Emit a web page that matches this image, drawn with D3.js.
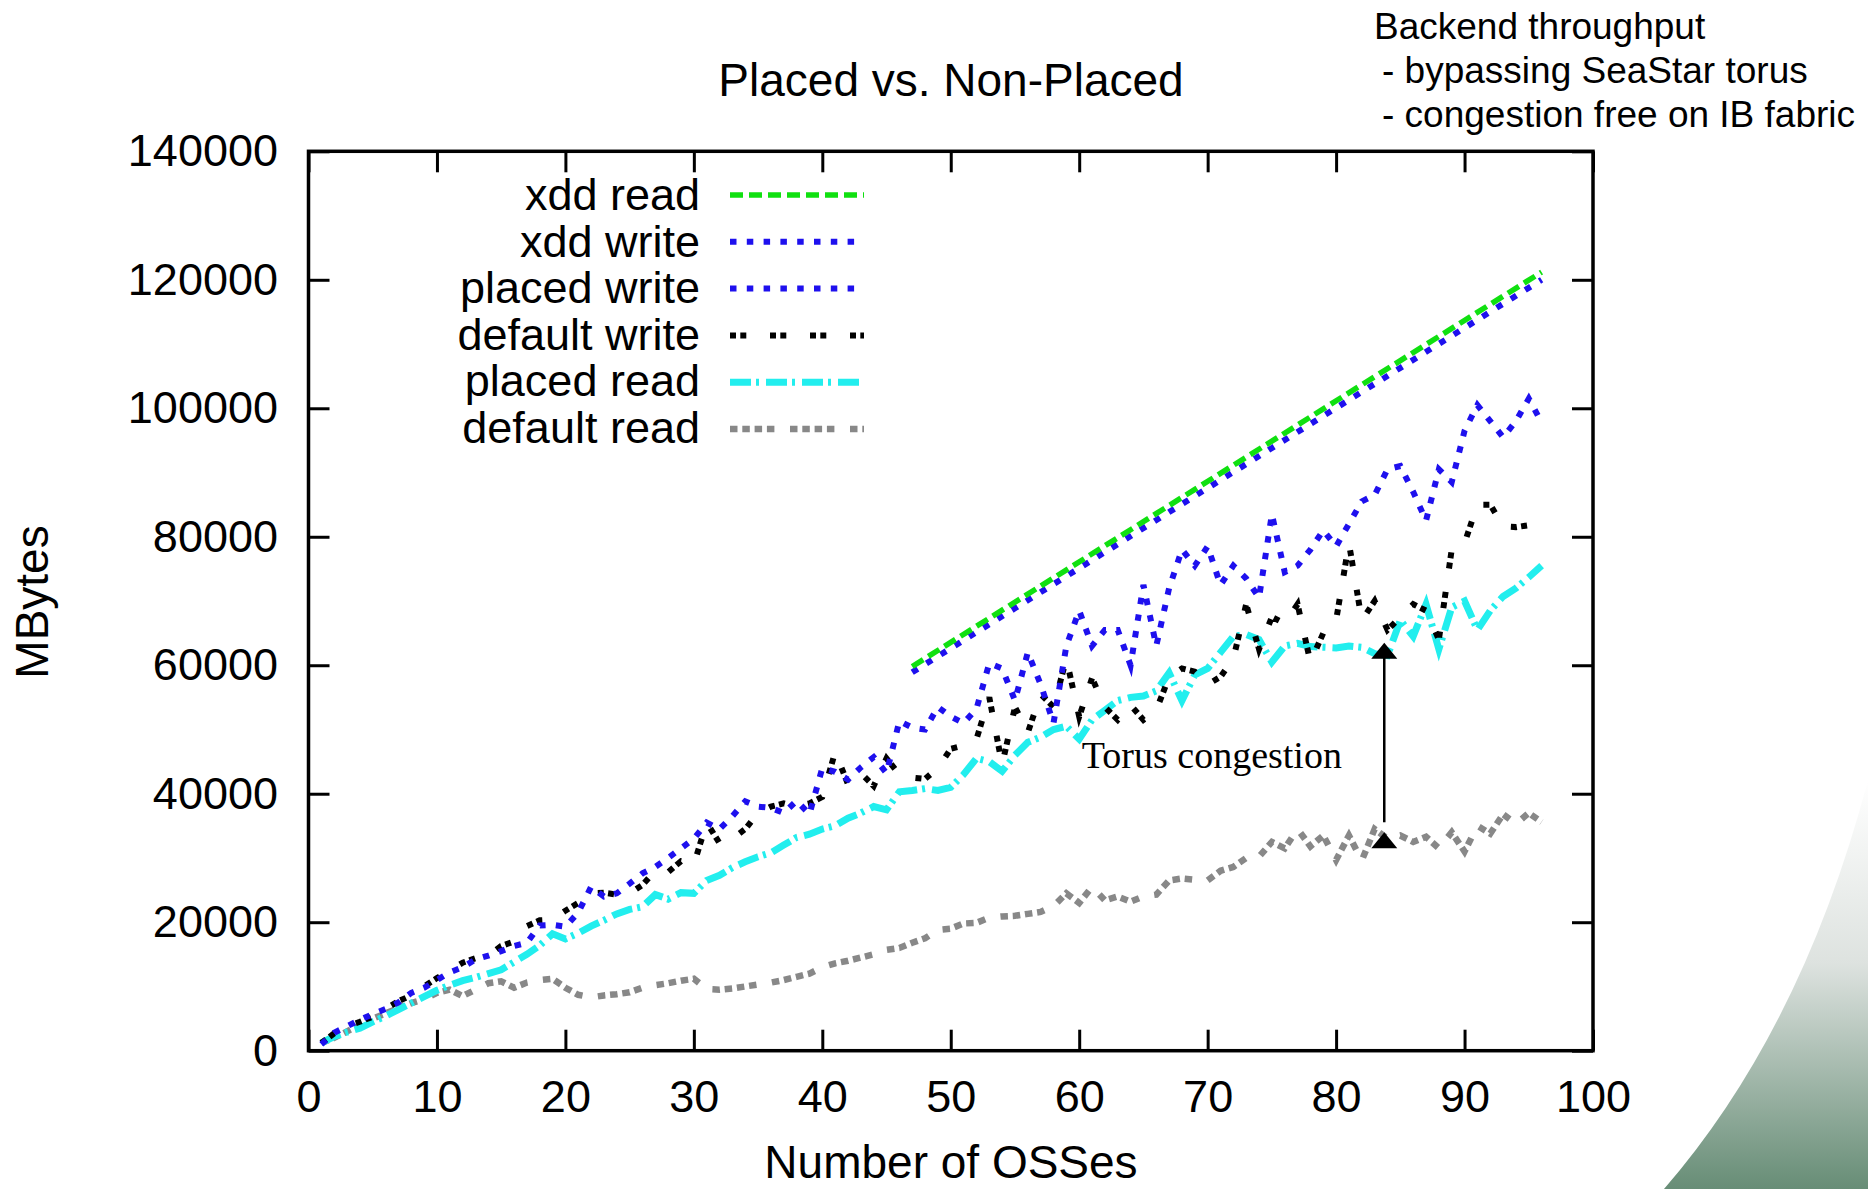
<!DOCTYPE html>
<html>
<head>
<meta charset="utf-8">
<script src="https://cdn.jsdelivr.net/npm/d3@7"></script>
<style>
  body { margin: 0; background: #fff; }
</style>
</head>
<body>
<div id="chart"></div>
<script>
// x values: number of OSSes
var osses = d3.range(1, 97);

var placedWrite = [1000, 2800, 3800, 4800, 5700, 6500, 7500, 9000, 9800, 11000,
  12200, 13000, 14200, 14800, 15500, 16300, 16800, 19500, 19600, 19300,
  21500, 25500, 24000, 24500, 26000, 27600, 28600, 30000, 31500, 33000,
  35500, 34500, 36500, 38800, 38000, 37800, 37000, 38900, 36800, 44000,
  43400, 42200, 44100, 45700, 43200, 51300, 50300, 50000, 53500, 52000,
  51000, 53200, 60300, 59500, 54500, 62000, 57000, 51000, 63000, 68500,
  63000, 65500, 65500, 60000, 72500, 63000, 72000, 78000, 75500, 78500,
  72500, 75500, 73500, 70500, 83500, 74500, 75500, 78000, 81000, 78500,
  82000, 85500, 86500, 90500, 91000, 87000, 82500, 90500, 88500, 96500,
  100500, 98000, 95500, 98000, 101500, 97800];

var defaultWrite = [1200, 2700, 3800, 4500, 5300, 6500, 7700, 8600, 10000, 11300,
  12500, 13700, 14400, 14800, 16300, 17000, 19400, 20300, 20400, 21800,
  23000, 24500, 24600, 24300, 24500, 25800, 28000, 27800, 29500, 29000,
  35500, 32300, 33000, 34500, 37000, 38000, 38500, 38000, 38500, 39500,
  46500, 41500, 43200, 41200, 45500, 43000, 42500, 42300, 44000, 47000,
  47500, 48500, 55000, 44500, 53500, 49500, 55500, 53500, 61000, 52000,
  58000, 53500, 51500, 53800, 51500, 53000, 58200, 59500, 59000, 57000,
  58200, 61000, 69500, 62500, 67500, 66500, 69500, 60500, 65000, 67000,
  79000, 67000, 70000, 65500, 67500, 69500, 68500, 64000, 78000, 79000,
  85000, 85000, 81600, 81500, 81800, 83000];

var placedRead = [1200, 2200, 2900, 3500, 4500, 5400, 6400, 7400, 8400, 9400,
  10200, 10900, 11400, 12000, 12600, 13800, 15000, 16400, 18200, 17400,
  18300, 19400, 20300, 21300, 22000, 22400, 24300, 23600, 24600, 24500,
  26500, 27300, 28500, 29400, 30200, 30800, 32000, 33200, 33700, 34500,
  35000, 36200, 37000, 38000, 37500, 40300, 40500, 40800, 40500, 41000,
  43000, 45500, 45000, 43500, 46000, 48000, 48800, 50000, 50500, 48500,
  51500, 53000, 54500, 55000, 55200, 56000, 58800, 54500, 58500, 59500,
  62000, 64500, 64800, 64000, 60500, 63000, 63400, 62900, 62800, 62700,
  63000, 62800, 61800, 61500, 67000, 64500, 69500, 62500, 69000, 70000,
  65500, 68500, 70700, 72000, 73700, 75500];

var defaultRead = [1200, 2000, 3000, 4000, 5000, 5800, 6600, 7400, 8000, 9000,
  9500, 8500, 9500, 10500, 10800, 9800, 10600, 11000, 11200, 9800,
  8700, 8300, 8600, 8800, 9100, 9800, 10200, 10500, 10900, 11200,
  9600, 9500, 9700, 10000, 10300, 10600, 11000, 11500, 12000, 13000,
  13600, 14000, 14500, 15000, 15700, 16000, 16800, 17500, 18800, 19000,
  19800, 19900, 20700, 20900, 21000, 21300, 21600, 22500, 24500, 23000,
  25500, 23400, 24000, 23200, 24000, 24300, 26500, 26800, 26600, 26500,
  28000, 28600, 30000, 30200, 32500, 31500, 34500, 31800, 33500, 29700,
  33500, 29600, 34500, 33000, 33500, 32500, 33300, 31500, 34000, 31000,
  35000, 33800, 36800, 35300, 37000, 35600];

// xdd runs only from 47 OSSes upward
var xddOsses = [47, 96];
var xddRead = [59800, 121200];
var xddWrite = [58900, 120000];

var xTicks = d3.range(0, 101, 10);
var yTicks = d3.range(0, 140001, 20000);

var seriesNames = ["xdd read", "xdd write", "placed write", "default write", "placed read", "default read"];

// annotation: arrow between default read and placed read
var arrowAt = 83.75, arrowTop = 63500, arrowBottom = 34000;
var noteText = "Torus congestion", noteX = 60.2, noteY = 44000;

var width = 1868, height = 1189;
var plotLeft = 308.5, plotRight = 1593, plotTop = 151.3, plotBottom = 1050.7;
var sans = "Liberation Sans, Arial, sans-serif";

var svg = d3.select("#chart").append("svg")
    .attr("width", width)
    .attr("height", height)
    .style("font-family", sans);

// green slide corner in the bottom right
var grad = svg.append("defs").append("linearGradient")
    .attr("id", "corner")
    .attr("gradientUnits", "userSpaceOnUse")
    .attr("x1", 0).attr("y1", 780).attr("x2", 0).attr("y2", 1189);
grad.append("stop").attr("offset", 0).attr("stop-color", "#ffffff");
grad.append("stop").attr("offset", 0.45).attr("stop-color", "#dde2df");
grad.append("stop").attr("offset", 1).attr("stop-color", "#678d76");
svg.append("path")
    .attr("d", "M1868,780 Q1802,1030 1664,1189 L1868,1189 Z")
    .attr("fill", "url(#corner)");

var x = d3.scaleLinear().domain([0, 100]).range([plotLeft, plotRight]);
var y = d3.scaleLinear().domain([0, 140000]).range([plotBottom, plotTop]);

var styles = {
  "xdd read":      { color: "#10e010", width: 5.5, dash: "13 6" },
  "xdd write":     { color: "#1e10ee", width: 6, dash: "6.5 10.3" },
  "placed write":  { color: "#1e10ee", width: 6, dash: "6.5 10.3" },
  "default write": { color: "#000000", width: 6, dash: "6 4.3 6 23.7" },
  "placed read":   { color: "#22eeee", width: 7, dash: "21 5 3 7" },
  "default read":  { color: "#888888", width: 6.5, dash: "7.5 4.8 7.5 4.8 7.5 4.8 7.5 15.6" }
};

// axes, ticks pointing inward
var xAxis = d3.axisBottom(x).tickValues(xTicks).tickSize(-21).tickSizeOuter(0).tickPadding(29);
var yAxis = d3.axisLeft(y).tickValues(yTicks).tickSize(-21).tickSizeOuter(0).tickPadding(30.5)
    .tickFormat(d3.format("d"));

svg.append("g")
    .attr("transform", "translate(0," + plotBottom + ")")
    .call(xAxis);
svg.append("g")
    .attr("transform", "translate(" + plotLeft + ",0)")
    .call(yAxis);
svg.append("g")
    .attr("transform", "translate(0," + plotTop + ")")
    .call(d3.axisTop(x).tickValues(xTicks).tickSize(-21).tickSizeOuter(0).tickFormat(""));
svg.append("g")
    .attr("transform", "translate(" + plotRight + ",0)")
    .call(d3.axisRight(y).tickValues(yTicks).tickSize(-21).tickSizeOuter(0).tickFormat(""));

svg.selectAll(".domain").remove();
svg.selectAll(".tick line").attr("stroke", "#000").attr("stroke-width", 3);
svg.selectAll(".tick text")
    .attr("font-size", 45)
    .attr("font-family", sans)
    .attr("fill", "#000");

// frame
svg.append("rect")
    .attr("x", plotLeft).attr("y", plotTop)
    .attr("width", plotRight - plotLeft).attr("height", plotBottom - plotTop)
    .attr("fill", "none")
    .attr("stroke", "#000")
    .attr("stroke-width", 3.5);

var line = d3.line()
    .x(function (d) { return x(d[0]); })
    .y(function (d) { return y(d[1]); });

var series = [
  { name: "default read", xs: osses, ys: defaultRead },
  { name: "placed read", xs: osses, ys: placedRead },
  { name: "default write", xs: osses, ys: defaultWrite },
  { name: "placed write", xs: osses, ys: placedWrite },
  { name: "xdd write", xs: xddOsses, ys: xddWrite },
  { name: "xdd read", xs: xddOsses, ys: xddRead }
];

svg.append("g").selectAll("path")
    .data(series)
    .join("path")
    .attr("d", function (s) { return line(s.xs.map(function (v, i) { return [v, s.ys[i]]; })); })
    .attr("fill", "none")
    .attr("stroke", function (s) { return styles[s.name].color; })
    .attr("stroke-width", function (s) { return styles[s.name].width; })
    .attr("stroke-dasharray", function (s) { return styles[s.name].dash; })
    .attr("stroke-linejoin", "miter");

// legend
var legend = svg.append("g");
seriesNames.forEach(function (name, i) {
  legend.append("text")
      .attr("x", 700)
      .attr("y", 210 + i * 46.6)
      .attr("text-anchor", "end")
      .attr("font-size", 45)
      .text(name);
  legend.append("line")
      .attr("x1", 730).attr("x2", 864)
      .attr("y1", 195 + i * 46.8).attr("y2", 195 + i * 46.8)
      .attr("stroke", styles[name].color)
      .attr("stroke-width", styles[name].width)
      .attr("stroke-dasharray", styles[name].dash);
});

// arrow with heads
var ax = x(arrowAt);
svg.append("line")
    .attr("x1", ax).attr("x2", ax)
    .attr("y1", y(arrowTop) + 8).attr("y2", y(arrowBottom) - 10)
    .attr("stroke", "#000").attr("stroke-width", 2.5);
svg.append("path")
    .attr("d", "M" + ax + "," + y(arrowTop) + " l13,16 l-26,0 Z")
    .attr("fill", "#000");
svg.append("path")
    .attr("d", "M" + ax + "," + y(arrowBottom) + " l13,16 l-26,0 Z")
    .attr("fill", "#000");

svg.append("text")
    .attr("x", x(noteX))
    .attr("y", y(noteY))
    .style("font-family", "'Liberation Serif', 'Times New Roman', serif")
    .attr("font-size", 38)
    .text(noteText);

// titles
svg.append("text")
    .attr("x", 951).attr("y", 96)
    .attr("text-anchor", "middle")
    .attr("font-size", 46)
    .text("Placed vs. Non-Placed");

svg.append("text")
    .attr("x", 951).attr("y", 1178)
    .attr("text-anchor", "middle")
    .attr("font-size", 46)
    .text("Number of OSSes");

svg.append("text")
    .attr("transform", "translate(48,602) rotate(-90)")
    .attr("text-anchor", "middle")
    .attr("font-size", 46)
    .text("MBytes");

var side = ["Backend throughput", "- bypassing SeaStar torus", "- congestion free on IB fabric"];
svg.append("g").selectAll("text")
    .data(side)
    .join("text")
    .attr("x", function (d, i) { return i == 0 ? 1374 : 1382; })
    .attr("y", function (d, i) { return 39 + i * 44; })
    .attr("font-size", 37)
    .text(function (d) { return d; });
</script>
</body>
</html>
